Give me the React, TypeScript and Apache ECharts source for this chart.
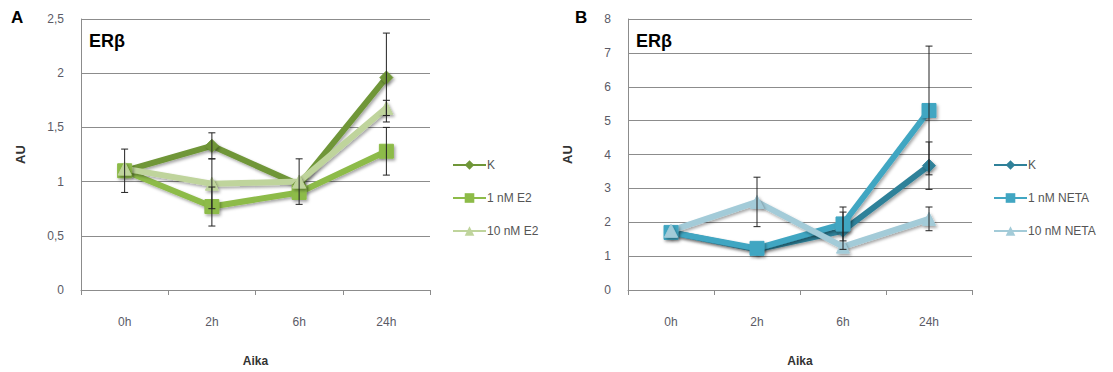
import React, { useEffect, useRef } from "react";
import * as echarts from "echarts";

const categories = ["0h", "2h", "6h", "24h"];

// Panel A (E2)
const namesA = ["K", "1 nM E2", "10 nM E2"];
const kA = [1.1, 1.33, 0.97, 1.96];
const kAErr = [0.2, 0.12, 0, 0.41];
const e2Low = [1.1, 0.77, 0.9, 1.28];
const e2LowErr = [0, 0.18, 0, 0.22];
const e2High = [1.12, 0.98, 1.0, 1.68];
const e2HighErr = [0, 0.23, 0.21, 0.07];

// Panel B (NETA)
const namesB = ["K", "1 nM NETA", "10 nM NETA"];
const kB = [1.7, 1.2, 1.75, 3.67];
const kBErr = [0, 0, 0.55, 0.7];
const netaLow = [1.7, 1.23, 1.95, 5.3];
const netaLowErr = [0, 0, 0.5, 1.9];
const netaHigh = [1.75, 2.6, 1.28, 2.1];
const netaHighErr = [0, 0.73, 0, 0.35];

const colorsA = ["#6f9638", "#8dbb48", "#bfd49c"];
const colorsB = ["#2f8199", "#41a6c2", "#a3cbd8"];

const FONT = "Liberation Sans";

function errData(vals: number[], errs: number[]) {
  return vals.map((v, i) => [i, v - errs[i], v + errs[i]]);
}

const renderErr = (params: any, api: any) => {
  const x = api.value(0);
  if (api.value(2) - api.value(1) <= 0) return null;
  const lo = api.coord([x, api.value(1)]);
  const hi = api.coord([x, api.value(2)]);
  const s = { stroke: "#222", lineWidth: 1 };
  const w = 3.5;
  return {
    type: "group",
    children: [
      { type: "line", shape: { x1: lo[0], y1: lo[1], x2: hi[0], y2: hi[1] }, style: s },
      { type: "line", shape: { x1: hi[0] - w, y1: hi[1], x2: hi[0] + w, y2: hi[1] }, style: s },
      { type: "line", shape: { x1: lo[0] - w, y1: lo[1], x2: lo[0] + w, y2: lo[1] }, style: s },
    ],
  };
};

function lineSeries(name: string, data: number[], color: string, symbol: string, size: number, idx: number) {
  return {
    type: "line",
    name,
    data,
    xAxisIndex: idx,
    yAxisIndex: idx,
    symbol,
    symbolSize: size,
    z: 3,
    lineStyle: {
      color,
      width: 6,
      shadowColor: "rgba(0,0,0,0.35)",
      shadowBlur: 3,
      shadowOffsetX: 1.5,
      shadowOffsetY: 2,
    },
    itemStyle: {
      color,
      borderColor: color,
      shadowColor: "rgba(0,0,0,0.35)",
      shadowBlur: 3,
      shadowOffsetX: 1.5,
      shadowOffsetY: 2,
    },
  };
}

function errSeries(name: string, vals: number[], errs: number[], idx: number) {
  return {
    type: "custom",
    name: name + "-err",
    xAxisIndex: idx,
    yAxisIndex: idx,
    data: errData(vals, errs),
    renderItem: renderErr,
    z: 5,
    silent: true,
  };
}

function xAxis(idx: number) {
  return {
    type: "category",
    gridIndex: idx,
    data: categories,
    boundaryGap: true,
    axisLine: { lineStyle: { color: "#8c8c8c", width: 1 } },
    axisTick: { show: true, length: 5, lineStyle: { color: "#8c8c8c" } },
    axisLabel: { color: "#5a5a66", fontSize: 12, fontFamily: FONT, margin: 26 },
    name: "Aika",
    nameLocation: "middle",
    nameGap: 65,
    nameTextStyle: { color: "#333", fontSize: 12, fontWeight: "bold", fontFamily: FONT },
  };
}

function yAxis(idx: number, max: number, interval: number) {
  return {
    type: "value",
    gridIndex: idx,
    min: 0,
    max,
    interval,
    axisLine: { show: true, lineStyle: { color: "#8c8c8c", width: 1 } },
    axisTick: { show: false },
    splitLine: { lineStyle: { color: "#8c8c8c", width: 1 } },
    axisLabel: {
      color: "#5a5a66",
      fontSize: 12,
      fontFamily: FONT,
      margin: 17,
      formatter: (v: number) => String(v).replace(".", ","),
    },
    name: "AU",
    nameLocation: "middle",
    nameRotate: 90,
    nameGap: 54,
    nameTextStyle: { color: "#333", fontSize: 13, fontWeight: "bold", fontFamily: FONT },
  };
}

function legend(names: string[], left: number) {
  return {
    data: names,
    orient: "vertical",
    left,
    top: 159,
    itemWidth: 33,
    itemHeight: 12,
    itemGap: 21,
    padding: 0,
    formatter: (n: string) => n.trim(),
    textStyle: { color: "#555", fontSize: 12, fontFamily: FONT, padding: [0, 0, 0, -4] },
  };
}

export default function App() {
  const ref = useRef<HTMLDivElement>(null);
  useEffect(() => {
    document.body.style.margin = "0";
    const chart = echarts.init(ref.current!, undefined, { renderer: "svg" });
    const bNames = ["K ", namesB[1], namesB[2]];
    chart.setOption({
      animation: false,
      backgroundColor: "#ffffff",
      grid: [
        { left: 81, top: 19, width: 349, height: 279 },
        { left: 628, top: 19, width: 344, height: 279 },
      ],
      xAxis: [xAxis(0), xAxis(1)],
      yAxis: [yAxis(0, 2.5, 0.5), yAxis(1, 8, 1)],
      legend: [legend(namesA, 452), legend(bNames, 993)],
      graphic: [
        { type: "text", left: 11, top: 9, style: { text: "A", fontSize: 17, fontWeight: "bold", fill: "#000", fontFamily: FONT } },
        { type: "text", left: 575, top: 9, style: { text: "B", fontSize: 17, fontWeight: "bold", fill: "#000", fontFamily: FONT } },
        { type: "text", left: 89, top: 32, style: { text: "ERβ", fontSize: 18, fontWeight: "bold", fill: "#000", fontFamily: FONT } },
        { type: "text", left: 636, top: 32, style: { text: "ERβ", fontSize: 18, fontWeight: "bold", fill: "#000", fontFamily: FONT } },
      ],
      series: [
        lineSeries(namesA[0], kA, colorsA[0], "diamond", 13, 0),
        lineSeries(namesA[1], e2Low, colorsA[1], "rect", 14, 0),
        lineSeries(namesA[2], e2High, colorsA[2], "triangle", 13, 0),
        errSeries(namesA[0], kA, kAErr, 0),
        errSeries(namesA[1], e2Low, e2LowErr, 0),
        errSeries(namesA[2], e2High, e2HighErr, 0),
        lineSeries(bNames[0], kB, colorsB[0], "diamond", 13, 1),
        lineSeries(bNames[1], netaLow, colorsB[1], "rect", 14, 1),
        lineSeries(bNames[2], netaHigh, colorsB[2], "triangle", 13, 1),
        errSeries("KB", kB, kBErr, 1),
        errSeries(bNames[1], netaLow, netaLowErr, 1),
        errSeries(bNames[2], netaHigh, netaHighErr, 1),
      ],
    });
    return () => chart.dispose();
  }, []);
  return <div ref={ref} style={{ width: 1113, height: 372 }} />;
}
